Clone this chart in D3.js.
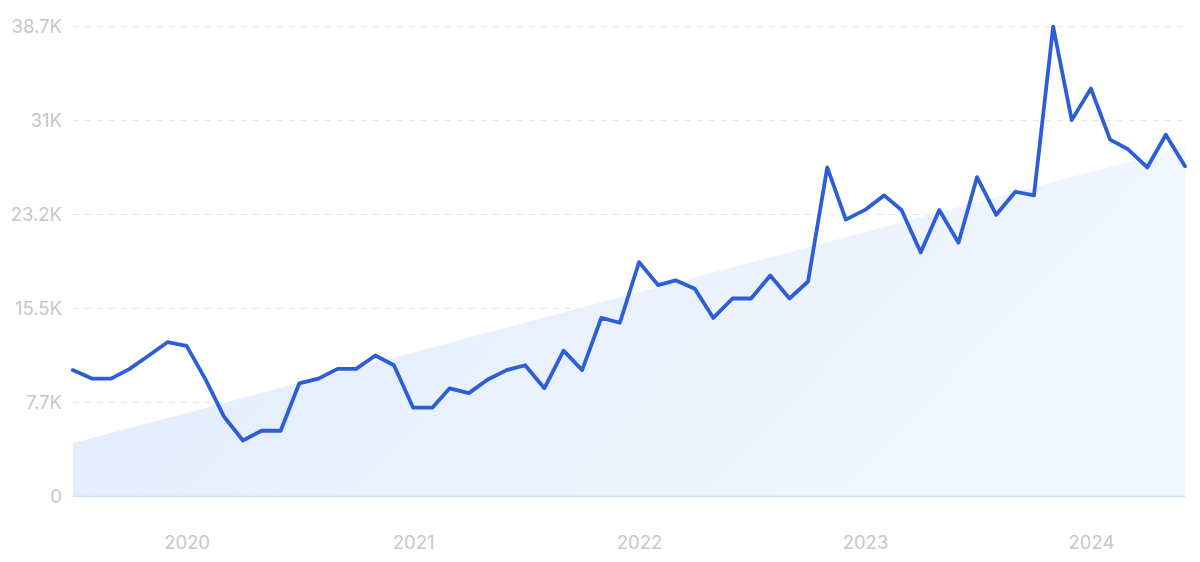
<!DOCTYPE html>
<html><head><meta charset="utf-8">
<script src="https://cdn.jsdelivr.net/npm/d3@7"></script>
<style>
html,body{margin:0;padding:0;background:#fff;}
svg{display:block;font-family:Inter,"Noto Sans",sans-serif;}
</style></head>
<body><svg id="chart" width="1200" height="562"></svg>
<script>
// Monthly values (thousands), Jul 2019 .. Jun 2024
const startMonth = "2019-07";
const values = [
 10.4, 9.7, 9.7, 10.5, 11.6, 12.7, 12.4, 9.6, 6.6, 4.6, 5.4, 5.4,
 9.3, 9.7, 10.5, 10.5, 11.6, 10.8, 7.3, 7.3, 8.9, 8.5, 9.6, 10.4,
 10.8, 8.9, 12.0, 10.4, 14.7, 14.3, 19.3, 17.4, 17.8, 17.1, 14.7, 16.3,
 16.3, 18.2, 16.3, 17.7, 27.1, 22.8, 23.6, 24.8, 23.6, 20.1, 23.6, 20.9,
 26.3, 23.2, 25.1, 24.8, 38.7, 31.0, 33.6, 29.4, 28.6, 27.1, 29.8, 27.2
];
const trendEnds = [4.37, 28.8];
const yTicks = [0, 7.74, 15.48, 23.22, 30.96, 38.7];
const yTickLabels = ["0", "7.7K", "15.5K", "23.2K", "31K", "38.7K"];
const xTickYears = [2020, 2021, 2022, 2023, 2024];

const parse = d3.timeParse("%Y-%m");
const t0 = parse(startMonth);
const data = values.map((v, i) => ({date: d3.timeMonth.offset(t0, i), v}));

const margin = {left: 72.7, right: 15, top: 26.7, bottom: 65.7};
const W = 1200, H = 562;
const svg = d3.select("#chart");

const x = d3.scaleTime()
  .domain([data[0].date, data[data.length - 1].date])
  .range([margin.left, W - margin.right]);
const y = d3.scaleLinear().domain([0, 38.7]).range([H - margin.bottom, margin.top]);

const defs = svg.append("defs");
const grad = defs.append("linearGradient").attr("id", "ag")
  .attr("x1", "0%").attr("y1", "0%").attr("x2", "100%").attr("y2", "30%");
grad.append("stop").attr("offset", "0%").attr("stop-color", "#dfeafb");
grad.append("stop").attr("offset", "100%").attr("stop-color", "#f2f7ff");

// grid
svg.append("g").selectAll("line").data(yTicks.slice(1)).join("line")
  .attr("x1", margin.left).attr("x2", W - margin.right)
  .attr("y1", d => y(d)).attr("y2", d => y(d))
  .attr("stroke", "#dfe5f1").attr("stroke-width", 1)
  .attr("stroke-dasharray", "6,6");

// trend area
const trendData = [
  {date: data[0].date, v: trendEnds[0]},
  {date: data[data.length - 1].date, v: trendEnds[1]}
];
svg.append("path").datum(trendData)
  .attr("d", d3.area().x(d => x(d.date)).y0(y(0)).y1(d => y(d.v)))
  .attr("fill", "url(#ag)");

// baseline
svg.append("line")
  .attr("x1", margin.left).attr("x2", W - margin.right)
  .attr("y1", y(0)).attr("y2", y(0))
  .attr("stroke", "#cddcf4").attr("stroke-width", 1.2);

// y labels
svg.append("g").selectAll("text").data(yTicks).join("text")
  .attr("x", 62).attr("y", d => y(d)).attr("dy", "0.36em")
  .attr("text-anchor", "end").attr("font-size", 18.5).attr("fill", "#c6c7cc")
  .text((d, i) => yTickLabels[i]);

// x labels
svg.append("g").selectAll("text").data(xTickYears).join("text")
  .attr("x", d => x(new Date(d, 0, 1)) + 0.5).attr("y", 548.5)
  .attr("text-anchor", "middle").attr("font-size", 18.5).attr("fill", "#c6c7cc")
  .text(d => d);

// line
svg.append("path").datum(data)
  .attr("d", d3.line().x(d => x(d.date)).y(d => y(d.v)))
  .attr("fill", "none").attr("stroke", "#2c5fd7")
  .attr("stroke-width", 3.8).attr("stroke-linejoin", "round").attr("stroke-linecap", "round");
</script>
</body></html>
